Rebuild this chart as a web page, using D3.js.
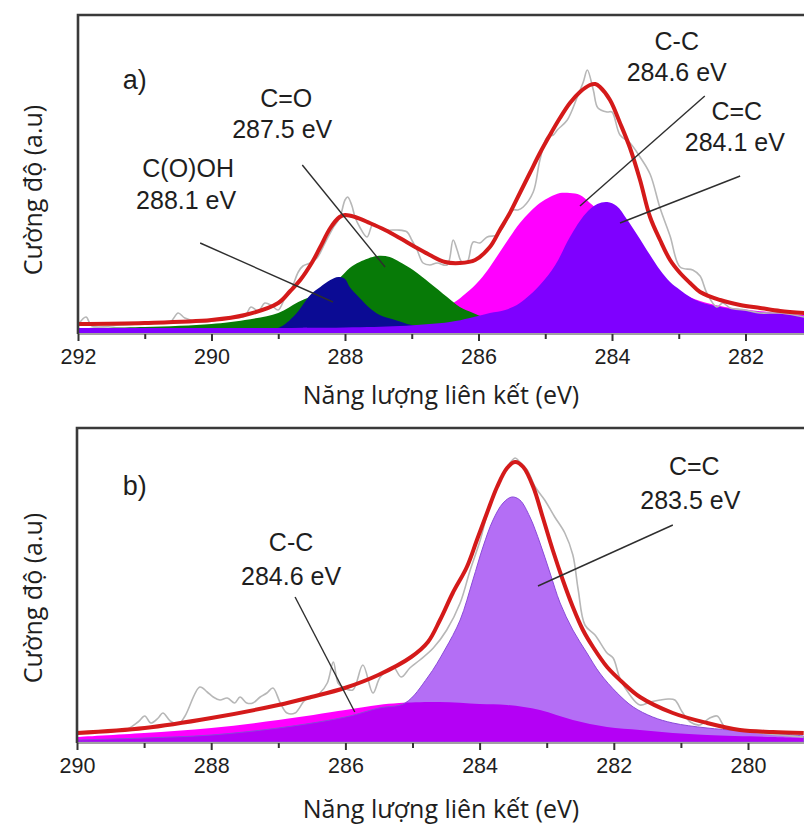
<!DOCTYPE html>
<html><head><meta charset="utf-8">
<script src="https://cdn.jsdelivr.net/npm/d3@7"></script>
<style>body{margin:0;background:#fff} svg{display:block}</style>
</head><body>
<svg id="c" width="804" height="826"></svg>
<script>
// ---------- Panel a data (binding energy eV, intensity a.u.) ----------
const aTicks = [292, 290, 288, 286, 284, 282];
const aRedE = [292.00,291.00,290.00,289.50,289.00,288.82,288.67,288.49,288.37,288.22,288.08,288.00,287.85,287.63,287.40,287.18,286.95,286.73,286.50,286.28,286.05,285.83,285.68,285.53,285.38,285.23,285.08,284.93,284.78,284.63,284.48,284.33,284.25,284.18,284.03,283.88,283.73,283.58,283.43,283.28,283.13,282.98,282.83,282.68,282.38,282.08,281.78,281.48,281.12];
const aRedI = [9,10,13,18,30,42,53,71,86,105,116,118,116,110,103,95,86,78,71,70,73,86,103,120,140,160,180,198,215,230,241,248,249,246,233,210,185,153,116,93,73,60,50,41,33,28,25,22,20];
const aRawE = [292.00,291.88,291.79,291.37,290.92,290.62,290.50,290.40,290.17,289.72,289.50,289.41,289.30,289.20,289.09,289.00,288.90,288.81,288.70,288.63,288.52,288.42,288.30,288.18,288.08,288.00,287.96,287.90,287.85,287.78,287.67,287.58,287.48,287.37,287.22,287.07,287.00,286.92,286.83,286.73,286.62,286.47,286.38,286.32,286.25,286.17,286.08,285.98,285.87,285.72,285.63,285.48,285.41,285.33,285.18,285.08,284.97,284.88,284.82,284.67,284.52,284.43,284.37,284.28,284.21,284.07,284.00,283.88,283.73,283.58,283.43,283.28,283.13,282.98,282.79,282.68,282.58,282.43,282.34,282.23,282.01,281.78,281.48,281.12];
const aRawI = [8,16,7,8,10,11,20,15,11,15,17,26,22,30,27,23,35,43,61,67,70,75,90,105,115,133,136,128,116,106,96,109,106,103,103,101,93,83,70,68,70,68,93,83,71,71,91,90,96,98,106,123,123,126,141,173,196,198,203,213,236,251,263,243,225,221,221,198,190,176,159,125,97,66,63,57,40,26,30,25,23,20,20,16];
// C(O)OH 288.1 eV
const aCoohE = [292,291,290,289.5,289.0,288.75,288.52,288.37,288.22,288.10,288.00,287.93,287.78,287.63,287.48,287.25,287.00,286.50,286.00,285.50,284.00,281.12];
const aCoohI = [0,0,0.5,1,5,18,38,46,53,56,54,46,35,25,18,13,8,4,2,1,0,0];
// C=O 287.5 eV
const aCoE = [292.00,291.00,290.00,289.50,289.00,288.70,288.37,288.08,287.93,287.78,287.52,287.33,287.18,286.98,286.73,286.47,286.28,286.08,285.83,285.53,285.00,284.50,284.00,281.12];
const aCoI = [5,6,9,13,20,31,41,55,65,71,77,76,71,63,50,36,26,20,13,7,3,2,1,0];
// C-C 284.6 eV
const aCcE = [292.00,290.00,288.67,287.93,287.18,286.73,286.43,286.13,285.98,285.83,285.68,285.53,285.38,285.23,285.08,284.93,284.78,284.63,284.48,284.33,284.18,283.88,283.58,283.28,282.98,282.68,282.38,282.08,281.48,281.12];
const aCcI = [4,5,7,10,16,22,28,43,53,66,81,96,110,121,130,136,140,140,138,130,121,101,78,58,41,32,27,24,20,18];
// C=C 284.1 eV
const aCeE = [292.00,290.00,288.00,287.18,286.43,286.13,285.83,285.60,285.38,285.08,284.85,284.63,284.40,284.22,284.07,283.93,283.78,283.63,283.43,283.28,283.13,282.98,282.83,282.68,282.38,282.08,281.63,281.12];
const aCeI = [5,5,5.5,7,11,15,20,23,30,48,68,96,119,129,131,127,114,99,78,63,51,43,36,31,26,23,20,17];

// ---------- Panel b data ----------
const bTicks = [290, 288, 286, 284, 282, 280];
const bRedE = [290.00,288.99,288.00,287.00,286.51,286.01,285.51,285.02,284.77,284.59,284.40,284.19,284.04,283.89,283.74,283.59,283.47,283.35,283.20,283.06,282.91,282.76,282.61,282.46,282.31,282.10,281.86,281.61,281.12,280.61,280.12,279.63,279.17];
const bRedI = [9,14,24,37,45,54,67,85,100,122,149,175,202,229,255,274,280,275,255,225,192,162,135,112,95,75,59,45,29,19,12,10,9];
const bRawE = [290.00,289.66,289.28,289.09,288.99,288.90,288.79,288.72,288.61,288.49,288.39,288.17,288.06,287.97,287.87,287.76,287.65,287.57,287.47,287.38,287.27,287.17,287.08,286.97,286.87,286.75,286.60,286.48,286.38,286.27,286.18,286.11,286.04,285.89,285.74,285.59,285.48,285.29,285.17,285.04,284.89,284.69,284.49,284.29,284.14,283.99,283.85,283.70,283.58,283.47,283.40,283.29,283.17,283.03,282.88,282.73,282.61,282.53,282.43,282.28,282.10,282.01,281.91,281.76,281.61,281.46,281.31,281.19,281.09,280.98,280.86,280.72,280.57,280.46,280.34,280.12,279.82,279.52,279.17];
const bRawI = [8,10,12,20,26,19,24,29,21,18,26,55,50,45,42,44,39,45,39,39,45,49,54,39,29,29,42,45,49,59,80,59,55,52,77,49,65,75,65,74,82,94,112,139,172,202,237,262,276,284,280,272,255,242,225,209,187,152,117,107,89,84,64,47,37,40,42,43,42,30,20,17,24,26,15,12,9,7,5];
// C-C 284.6 eV
const bCcE = [290.00,289.00,288.00,287.00,286.00,285.51,285.20,284.60,284.00,283.59,283.10,282.61,282.10,281.61,281.12,280.61,279.63,279.17];
const bCcI = [5,9,14,22,32,37,39,40,38,37,32,22,15,12,9,7,5,4];
// C=C 283.5 eV
const bCeE = [290.00,289.00,288.00,287.00,286.00,285.50,285.11,284.77,284.52,284.29,284.10,283.95,283.80,283.65,283.52,283.40,283.25,283.10,282.95,282.80,282.61,282.40,282.21,281.95,281.71,281.42,281.12,280.61,279.63,279.17];
const bCeI = [2,4,7,14,25,34,39,65,92,122,162,195,222,239,245,242,225,199,169,139,112,89,69,49,35,25,19,14,9,6];

// ---------- Text ----------
const xTitle = "Năng lượng liên kết (eV)";
const yTitle = "Cường độ (a.u)";
const aAnnot = [
  {lines:["C(O)OH","288.1 eV"], at:[[290.35,165],[290.38,133]], lead:[[290.17,90],[288.18,31]]},
  {lines:["C=O","287.5 eV"], at:[[288.88,235],[288.94,204.5]], lead:[[288.64,168],[287.40,66]]},
  {lines:["C-C","284.6 eV"], at:[[283.03,292],[283.03,261]], lead:[[282.61,237],[284.48,127]]},
  {lines:["C=C","284.1 eV"], at:[[282.13,222],[282.16,191]], lead:[[282.08,157],[283.88,110]]}
];
const bAnnot = [
  {lines:["C-C","284.6 eV"], at:[[286.81,200],[286.81,166]], lead:[[286.75,145],[285.86,30]]},
  {lines:["C=C","283.5 eV"], at:[[280.80,276],[280.86,242]], lead:[[281.12,217],[283.13,156]]}
];

const zip = (E, I) => E.map((e, i) => [e, I[i]]);
const svg = d3.select('#c');
const TF = '"Liberation Sans", Arial, sans-serif';
const OF = '"Open Sans", "Noto Sans", sans-serif';

function panel(o) {
  const x = d3.scaleLinear().domain(o.xd).range(o.xr);
  const y = d3.scaleLinear().domain(o.yd).range(o.yr);
  const g = svg.append('g');
  const left = o.xr[0], bottom = o.yr[0], top = o.yr[1], right = 804;
  const cid = 'clip' + o.id;
  g.append('clipPath').attr('id', cid).append('rect')
    .attr('x', left).attr('y', top).attr('width', right - left).attr('height', bottom - top);
  const p = g.append('g').attr('clip-path', `url(#${cid})`);
  const area = d3.area().x(d => x(d[0])).y0(y(0)).y1(d => y(d[1])).curve(d3.curveCatmullRom.alpha(0.5));
  const line = d3.line().x(d => x(d[0])).y(d => y(d[1])).curve(d3.curveCatmullRom.alpha(0.5));
  o.fills.forEach(f => {
    p.append('path').datum(zip(f.E, f.I)).attr('d', area)
      .attr('fill', f.color).attr('fill-opacity', f.op || 1)
      .attr('stroke', f.stroke || 'none').attr('stroke-width', f.sw || 0);
  });
  p.append('path').datum(zip(o.rawE, o.rawI)).attr('d', line)
    .attr('fill', 'none').attr('stroke', '#b7b7b7').attr('stroke-width', 1.6);
  p.append('path').datum(zip(o.redE, o.redI)).attr('d', line)
    .attr('fill', 'none').attr('stroke', '#d41a1a').attr('stroke-width', 4).attr('stroke-linejoin', 'round');
  // leader lines and labels
  o.annot.forEach(a => {
    g.append('line')
      .attr('x1', x(a.lead[0][0])).attr('y1', y(a.lead[0][1]))
      .attr('x2', x(a.lead[1][0])).attr('y2', y(a.lead[1][1]))
      .attr('stroke', '#2e2e2e').attr('stroke-width', 1.4);
    a.lines.forEach((t, i) => {
      g.append('text').attr('x', x(a.at[i][0])).attr('y', y(a.at[i][1])).attr('dy', '0.36em')
        .attr('text-anchor', 'middle').attr('font-family', TF).attr('font-size', 25)
        .attr('fill', '#1e1e1e').text(t);
    });
  });
  g.append('text').attr('x', x(o.tag[0])).attr('y', y(o.tag[1])).attr('dy', '0.36em')
    .attr('text-anchor', 'middle').attr('font-family', TF).attr('font-size', 27)
    .attr('fill', '#1e1e1e').text(o.tagText);
  // frame
  g.append('path').attr('d', `M${left},${bottom + 1}V${top}H${right}`)
    .attr('fill', 'none').attr('stroke', '#3a3a3a').attr('stroke-width', 2.6);
  g.append('line').attr('x1', left).attr('x2', right).attr('y1', bottom + 1).attr('y2', bottom + 1)
    .attr('stroke', '#444').attr('stroke-width', 1);
  // axes
  const ints = d3.range(Math.ceil(o.xd[1]), o.xd[0] + 1).filter(v => x(v) <= right);
  const minor = d3.axisBottom(x).tickValues(ints.filter(v => !o.ticks.includes(v))).tickSize(5).tickFormat('');
  const major = d3.axisBottom(x).tickValues(o.ticks).tickSize(7).tickPadding(8).tickFormat(d3.format('d'));
  [minor, major].forEach(ax => {
    const ag = g.append('g').attr('transform', `translate(0,${bottom + 1})`).call(ax);
    ag.select('.domain').remove();
    ag.selectAll('line').attr('stroke', '#333').attr('stroke-width', 2);
    ag.selectAll('text').attr('font-family', TF).attr('font-size', 21.5).attr('fill', '#1e1e1e');
  });
  g.append('text').attr('x', 441).attr('y', o.xTitleY).attr('dy', '0.36em').attr('text-anchor', 'middle')
    .attr('font-family', OF).attr('font-size', 25).attr('fill', '#1e1e1e').text(xTitle);
  g.append('text').attr('transform', `translate(33,${o.yTitleY}) rotate(-90)`).attr('dy', '0.36em')
    .attr('text-anchor', 'middle').attr('font-family', OF).attr('font-size', 25).attr('fill', '#1e1e1e').text(yTitle);
}

panel({
  id: 'a', xd: [292, 280], xr: [78, 879], yd: [0, 318], yr: [333, 15], ticks: aTicks,
  fills: [
    {E: aCcE, I: aCcI, color: '#ff00ff'},
    {E: aCoE, I: aCoI, color: '#077a07'},
    {E: aCoohE, I: aCoohI, color: '#0b0b94'},
    {E: aCeE, I: aCeI, color: '#7f00ff'}
  ],
  rawE: aRawE, rawI: aRawI, redE: aRedE, redI: aRedI, annot: aAnnot,
  tag: [291.15, 254], tagText: 'a)', xTitleY: 395, yTitleY: 190
});
panel({
  id: 'b', xd: [290, 278], xr: [77, 882.2], yd: [0, 314], yr: [742, 428], ticks: bTicks,
  fills: [
    {E: bCcE, I: bCcI, color: '#ff00ff'},
    {E: bCeE, I: bCeI, color: 'rgb(123,0,237)', op: 0.57, stroke: '#8a4ad8', sw: 1}
  ],
  rawE: bRawE, rawI: bRawI, redE: bRedE, redI: bRedI, annot: bAnnot,
  tag: [289.14, 257], tagText: 'b)', xTitleY: 809, yTitleY: 598
});
</script>
</body></html>
